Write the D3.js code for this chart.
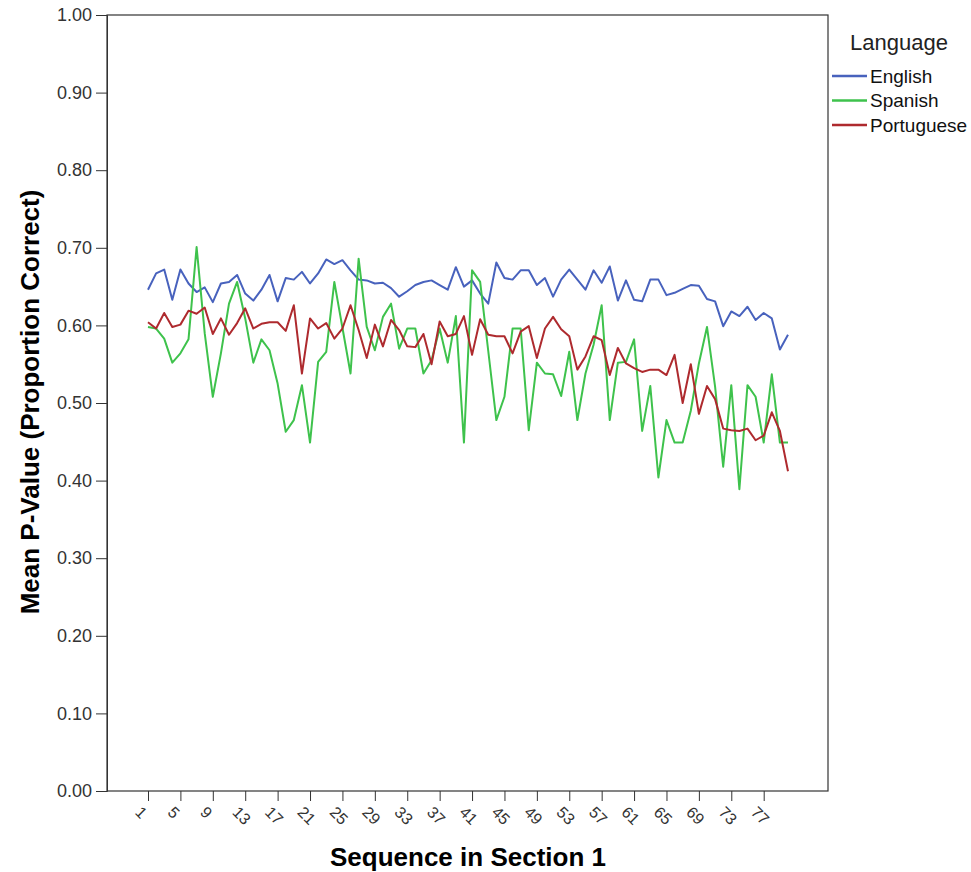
<!DOCTYPE html>
<html>
<head>
<meta charset="utf-8">
<script src="https://cdn.jsdelivr.net/npm/d3@7"></script>
<style>
  body { margin: 0; background: #fff; }
  svg { font-family: "Liberation Sans", Arial, sans-serif; }
</style>
</head>
<body>
<div id="chart"></div>
<script>
// Mean p-value by item sequence, one line per language
var sequence = d3.range(1, 81);
var tickLabels = d3.range(1, 80, 4);
var yTicks = [0, 0.1, 0.2, 0.3, 0.4, 0.5, 0.6, 0.7, 0.8, 0.9, 1.0];
var languages = ["English", "Spanish", "Portuguese"];

var english = [0.646,0.667,0.672,0.633,0.672,0.654,0.643,0.649,0.630,0.654,0.656,0.665,0.641,0.632,0.646,0.665,
  0.631,0.661,0.659,0.669,0.654,0.667,0.685,0.679,0.684,0.671,0.659,0.658,0.654,0.655,0.648,0.637,
  0.644,0.652,0.656,0.658,0.652,0.646,0.675,0.650,0.658,0.641,0.628,0.681,0.661,0.659,0.671,0.671,
  0.652,0.661,0.637,0.659,0.672,0.659,0.646,0.671,0.655,0.676,0.632,0.658,0.633,0.631,0.659,0.659,
  0.639,0.642,0.647,0.652,0.651,0.634,0.631,0.599,0.618,0.612,0.624,0.607,0.616,0.609,0.569,0.588];

var spanish = [0.598,0.596,0.583,0.552,0.564,0.582,0.701,0.590,0.508,0.564,0.628,0.656,0.609,0.552,0.582,0.568,
  0.525,0.463,0.478,0.523,0.449,0.553,0.566,0.656,0.597,0.538,0.686,0.598,0.568,0.611,0.628,0.570,
  0.596,0.596,0.538,0.555,0.596,0.552,0.612,0.449,0.671,0.656,0.567,0.478,0.508,0.596,0.596,0.465,
  0.552,0.538,0.537,0.509,0.566,0.478,0.538,0.575,0.626,0.478,0.552,0.553,0.582,0.464,0.522,0.404,
  0.478,0.449,0.449,0.490,0.551,0.598,0.521,0.418,0.523,0.389,0.523,0.508,0.449,0.537,0.449,0.449];

var portuguese = [0.604,0.596,0.616,0.598,0.601,0.619,0.615,0.623,0.589,0.609,0.588,0.603,0.622,0.596,0.602,0.604,
  0.604,0.593,0.626,0.538,0.609,0.596,0.603,0.583,0.596,0.626,0.594,0.558,0.601,0.573,0.607,0.594,
  0.573,0.572,0.589,0.550,0.605,0.586,0.589,0.612,0.562,0.608,0.588,0.586,0.586,0.564,0.592,0.599,
  0.558,0.596,0.611,0.595,0.586,0.543,0.560,0.586,0.581,0.536,0.571,0.551,0.545,0.540,0.543,0.543,
  0.536,0.562,0.500,0.550,0.486,0.522,0.505,0.467,0.465,0.464,0.467,0.452,0.458,0.488,0.464,0.412];

var colors = ["#4862bd", "#3ec24c", "#ae2a2e"];
var series = [english, spanish, portuguese];

var width = 971, height = 872;
var plotLeft = 107, plotRight = 828, plotTop = 15, plotBottom = 791;

var svg = d3.select("#chart").append("svg")
  .attr("width", width)
  .attr("height", height);

var x = d3.scaleLinear().domain([1, 80]).range([148, 788]);
var y = d3.scaleLinear().domain([0, 1]).range([plotBottom, plotTop]);

// frame
svg.append("rect")
  .attr("x", plotLeft).attr("y", plotTop)
  .attr("width", plotRight - plotLeft).attr("height", plotBottom - plotTop)
  .attr("fill", "none").attr("stroke", "#333").attr("stroke-width", 1.2);

// y axis
var yAxis = svg.append("g")
  .attr("transform", "translate(" + plotLeft + ",0)")
  .call(d3.axisLeft(y).tickValues(yTicks).tickFormat(d3.format(".2f")).tickSize(11).tickPadding(4));
yAxis.select(".domain").attr("stroke", "#333");
yAxis.selectAll(".tick line").attr("stroke", "#333");
yAxis.selectAll("text").attr("font-size", 18).attr("fill", "#333")
  .attr("font-family", "'Liberation Sans', Arial, sans-serif");

// x axis
var xAxis = svg.append("g")
  .attr("transform", "translate(0," + plotBottom + ")")
  .call(d3.axisBottom(x).tickValues(tickLabels).tickFormat(d3.format("d")).tickSize(10));
xAxis.select(".domain").remove();
xAxis.selectAll(".tick line").attr("stroke", "#333");
xAxis.selectAll("text")
  .attr("font-size", 16).attr("fill", "#333")
  .attr("font-family", "'Liberation Sans', Arial, sans-serif")
  .attr("text-anchor", "start")
  .attr("dy", "0.35em")
  .attr("transform", "translate(-1,9) rotate(45)");

// lines
var line = d3.line()
  .x(function(d, i) { return x(sequence[i]); })
  .y(function(d) { return y(d); });

series.forEach(function(s, k) {
  svg.append("path")
    .datum(s)
    .attr("fill", "none")
    .attr("stroke", colors[k])
    .attr("stroke-width", 2)
    .attr("stroke-linejoin", "round")
    .attr("d", line);
});

// axis titles
svg.append("text")
  .attr("x", 468).attr("y", 866)
  .attr("text-anchor", "middle")
  .attr("font-size", 26).attr("font-weight", "bold")
  .text("Sequence in Section 1");

svg.append("text")
  .attr("transform", "translate(39,402) rotate(-90)")
  .attr("text-anchor", "middle")
  .attr("font-size", 26).attr("font-weight", "bold")
  .text("Mean P-Value (Proportion Correct)");

// legend
var legend = svg.append("g");
legend.append("text")
  .attr("x", 850).attr("y", 50)
  .attr("font-size", 22).attr("fill", "#222")
  .text("Language");

languages.forEach(function(name, k) {
  var ly = 76 + k * 24.5;
  legend.append("line")
    .attr("x1", 832).attr("x2", 867)
    .attr("y1", ly).attr("y2", ly)
    .attr("stroke", colors[k]).attr("stroke-width", 2.5);
  legend.append("text")
    .attr("x", 870).attr("y", ly + 6.5)
    .attr("font-size", 19).attr("fill", "#111")
    .text(name);
});
</script>
</body>
</html>
